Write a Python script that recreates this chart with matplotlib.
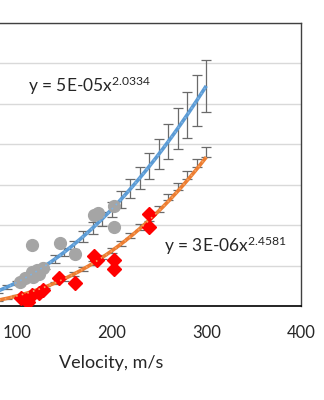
import matplotlib
matplotlib.use("Agg")
import matplotlib.pyplot as plt
import numpy as np

plt.rcParams['font.family'] = ['Lato', 'DejaVu Sans']
plt.rcParams['mathtext.fontset'] = 'custom'
plt.rcParams['mathtext.rm'] = 'Lato'
plt.rcParams['mathtext.it'] = 'Lato:italic'
plt.rcParams['mathtext.bf'] = 'Lato:bold'

# Measured points
grey_v = [103, 109, 116, 117, 121, 124, 128, 116, 146, 162, 182, 186, 203, 203]
grey_y = [0.59, 0.69, 0.85, 0.72, 0.89, 0.78, 0.94, 1.51, 1.57, 1.29, 2.26, 2.30, 2.48, 1.95]

red_v = [104, 110, 112, 116, 124, 128, 145, 161, 182, 185, 203, 203, 240, 240]
red_y = [0.21, 0.14, 0.10, 0.27, 0.32, 0.39, 0.70, 0.58, 1.24, 1.15, 1.14, 0.92, 2.27, 1.95]

# Model points with error bars
model_v = [60, 70, 80, 90, 100, 110, 120, 130, 140, 150, 160, 170, 180, 190,
           200, 210, 220, 230, 240, 250, 260, 270, 280, 290, 300]
blue_mid = [0.21, 0.28, 0.37, 0.47, 0.58, 0.71, 0.84, 0.99, 1.16, 1.33, 1.52, 1.72, 1.93,
            2.15, 2.39, 2.64, 2.90, 3.17, 3.46, 3.76, 4.07, 4.39, 4.73, 5.08, 5.44]
blue_err = [0.03, 0.03, 0.04, 0.05, 0.05, 0.06, 0.07, 0.08, 0.09, 0.10, 0.10, 0.14, 0.15,
            0.17, 0.19, 0.21, 0.24, 0.27, 0.32, 0.38, 0.44, 0.51, 0.57, 0.63, 0.65]
orange_mid = [0.07, 0.10, 0.14, 0.19, 0.25, 0.31, 0.39, 0.47, 0.57, 0.67, 0.79, 0.92, 1.06,
              1.21, 1.37, 1.55, 1.74, 1.96, 2.18, 2.40, 2.70, 2.96, 3.24, 3.54, 3.81]
orange_err = [0.01, 0.01, 0.01, 0.01, 0.02, 0.02, 0.02, 0.03, 0.03, 0.04, 0.04, 0.05, 0.05,
              0.05, 0.06, 0.06, 0.06, 0.07, 0.07, 0.08, 0.08, 0.08, 0.09, 0.10, 0.12]

# Power-law fits y = a * x^b
fit_blue = (5e-05, 2.0334)
fit_orange = (3e-06, 2.4581)

x_ticks = [0, 100, 200, 300, 400]
y_ticks = [0, 1, 2, 3, 4, 5, 6, 7]

BLUE = '#5B9BD5'
ORANGE = '#ED7D31'
GREY = '#A5A5A5'
RED = '#FF0000'
ERR = '#6A6A6A'

fig = plt.figure(figsize=(3.24, 4.0), dpi=100)
ax = fig.add_axes([-78 / 324, 94 / 400, 379 / 324, 283 / 400])
ax.set_xlim(0, 400)
ax.set_ylim(0, 7)
ax.set_xticks(x_ticks)
ax.set_yticks(y_ticks)
ax.grid(axis='y', color='#D9D9D9', lw=1.0, zorder=0)
ax.set_axisbelow(True)
ax.tick_params(axis='both', length=0, labelsize=12, colors='#262626')
ax.tick_params(axis='x', pad=14)
for side in ('top', 'right', 'left'):
    ax.spines[side].set_color('#404040')
    ax.spines[side].set_linewidth(1.0)
ax.spines['bottom'].set_color('black')
ax.spines['bottom'].set_linewidth(1.2)

ax.errorbar(model_v, blue_mid, yerr=blue_err, fmt='none', ecolor=ERR,
            elinewidth=0.9, capsize=3.5, capthick=0.9, zorder=2)
ax.errorbar(model_v, orange_mid, yerr=orange_err, fmt='none', ecolor=ERR,
            elinewidth=0.9, capsize=3.5, capthick=0.9, zorder=2)

xs = np.linspace(40, 300, 300)
yb = fit_blue[0] * xs ** fit_blue[1]
yo = fit_orange[0] * xs ** fit_orange[1]
ax.plot(xs, yb, color=BLUE, lw=2.6, solid_capstyle='butt', zorder=3)
ax.plot(xs, yo, color=ORANGE, lw=2.6, solid_capstyle='butt', zorder=3)

ax.plot(grey_v, grey_y, 'o', ms=8.5, color=GREY, mec=GREY, zorder=4)
ax.plot(red_v, red_y, 'D', ms=7.3, color=RED, mec=RED, zorder=4)

ax.plot(xs, yb, color='#7FB3E3', lw=1.2, ls=(0, (1, 2.5)), zorder=5)
ax.plot(xs, yo, color='#F4A261', lw=1.2, ls=(0, (1, 2.5)), zorder=5)

ax.text(112, 5.44, r'y = 5E-05x$^{\mathregular{2.0334}}$', fontsize=12.5,
        color='#262626', va='center', ha='left')
ax.text(255, 1.48, r'y = 3E-06x$^{\mathregular{2.4581}}$', fontsize=12.5,
        color='#262626', va='center', ha='left')

ax.set_xlabel('Velocity, m/s', fontsize=13, color='#262626')
ax.xaxis.set_label_coords(0.5, -(363 - 306) / 283)
ax.xaxis.label.set_va('center')

fig.savefig('out.png', dpi=100)
